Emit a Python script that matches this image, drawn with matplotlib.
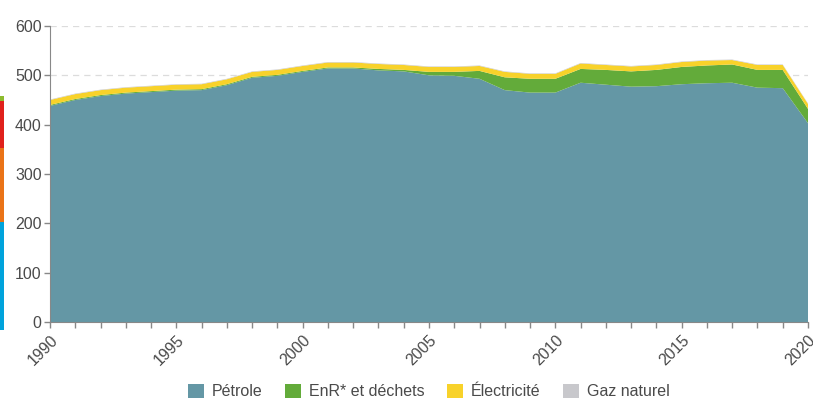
import matplotlib.pyplot as plt
import numpy as np

plt.rcParams['font.family'] = ['Liberation Sans', 'DejaVu Sans']

years = np.arange(1990, 2021)
petrole = [438, 450, 458, 463, 466, 469, 470, 480, 495, 499, 507, 514, 514, 510, 508, 500,
           499, 493, 470, 465, 465, 485, 481, 477, 478, 482, 484, 485, 475, 474, 403]
enr = [2, 2, 2, 2, 2, 2, 2, 2, 2, 2, 2, 2, 2, 3, 3, 7,
       8, 16, 26, 28, 28, 28, 30, 31, 33, 35, 36, 37, 36, 37, 29]
elec = [10, 10, 10, 10, 10, 10, 10, 10, 10, 10, 10, 10, 10, 10, 10, 10,
        10, 10, 11, 10, 10, 11, 10, 10, 10, 10, 10, 9, 10, 10, 10]
gaz = [1] * len(years)

labels = ["Pétrole", "EnR* et déchets", "Électricité", "Gaz naturel"]
colors = ["#6497a5", "#63ab3a", "#f8d22a", "#c8c8cc"]

# bord d'un graphique voisin, coupé à gauche
voisin = [108, 74, 47, 5]
voisin_colors = ["#00a3dc", "#ea7317", "#e0211c", "#8dbb2f"]

fig = plt.figure(figsize=(8.13, 4.01), dpi=100)
ax = fig.add_axes([50/813, 79/401, 758/813, 296/401])

ax.stackplot(years, petrole, enr, elec, gaz, colors=colors, labels=labels, linewidth=0)

ax.set_xlim(1990, 2020)
ax.set_ylim(0, 600)
ax.set_yticks(range(0, 601, 100))
ax.set_xticks(range(1990, 2021, 5))
ax.set_xticks(years, minor=True)
ax.grid(axis='y', linestyle=(0, (5, 4)), color='#dcdcdc', linewidth=0.9)
ax.set_axisbelow(True)

for s in ['top', 'right']:
    ax.spines[s].set_visible(False)
for s in ['left', 'bottom']:
    ax.spines[s].set_color('#888888')
ax.tick_params(axis='both', which='both', colors='#888888', labelcolor='#4a4a4a',
               labelsize=11.5, length=4, width=1)
ax.tick_params(axis='y', pad=2)
plt.setp(ax.get_xticklabels(), rotation=45, ha='right', rotation_mode='anchor')

ax.legend(loc='upper center', bbox_to_anchor=(0.5, -0.16), ncol=4, frameon=False,
          fontsize=11.5, handlelength=1.0, handleheight=1.0, columnspacing=1.4,
          handletextpad=0.5, labelcolor='#4a4a4a')

ax2 = fig.add_axes([0, 71/401, 4/813, 235/401])
ax2.bar([0], voisin[0], color=voisin_colors[0], width=1)
bottom = voisin[0]
for v, c in zip(voisin[1:], voisin_colors[1:]):
    ax2.bar([0], v, bottom=bottom, color=c, width=1)
    bottom += v
ax2.set_xlim(-0.5, 0.5)
ax2.set_ylim(0, 235)
ax2.axis('off')

fig.savefig("out.png", dpi=100)
